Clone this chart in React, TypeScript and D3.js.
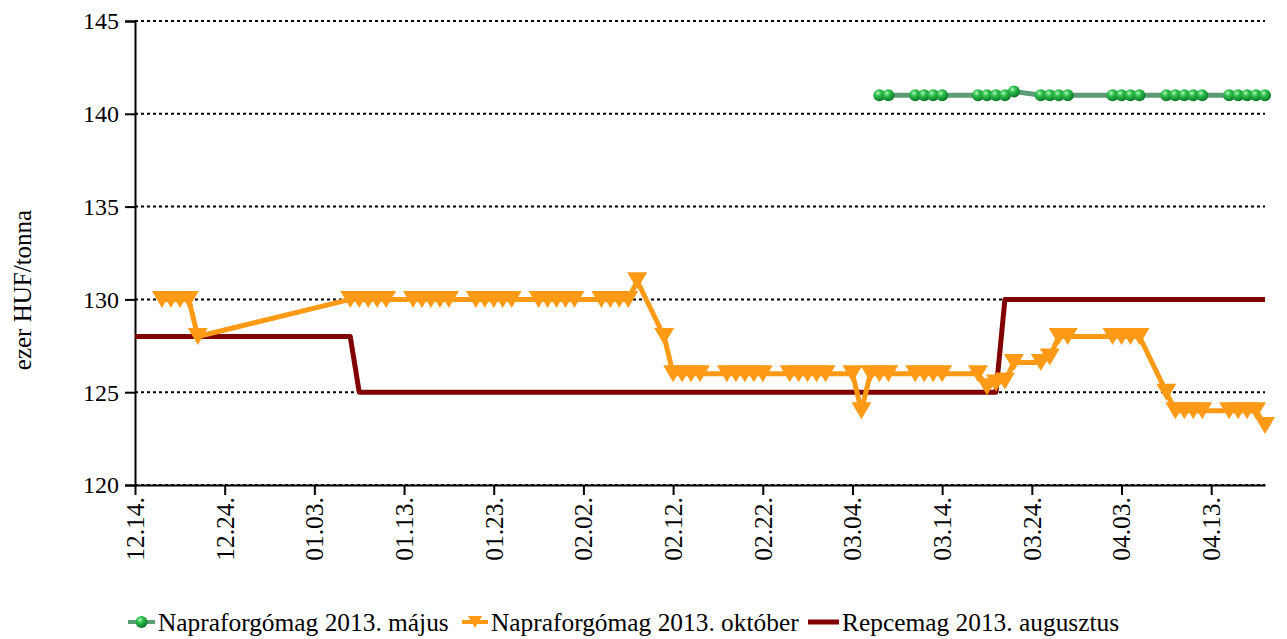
import { useEffect, useRef } from "react";
import * as d3 from "d3";

const seriesNames = [
  "Napraforgómag 2013. május",
  "Napraforgómag 2013. október",
  "Repcemag 2013. augusztus",
];

const yTicks = [120, 125, 130, 135, 140, 145];

const xTickDates = [
  "2012-12-14", "2012-12-24", "2013-01-03", "2013-01-13", "2013-01-23",
  "2013-02-02", "2013-02-12", "2013-02-22", "2013-03-04", "2013-03-14",
  "2013-03-24", "2013-04-03", "2013-04-13",
];

// Napraforgómag 2013. május
const majus: [string, number][] = [
  ["2013-03-07", 141], ["2013-03-08", 141],
  ["2013-03-11", 141], ["2013-03-12", 141], ["2013-03-13", 141], ["2013-03-14", 141],
  ["2013-03-18", 141], ["2013-03-19", 141], ["2013-03-20", 141], ["2013-03-21", 141], ["2013-03-22", 141.2],
  ["2013-03-25", 141], ["2013-03-26", 141], ["2013-03-27", 141], ["2013-03-28", 141],
  ["2013-04-02", 141], ["2013-04-03", 141], ["2013-04-04", 141], ["2013-04-05", 141],
  ["2013-04-08", 141], ["2013-04-09", 141], ["2013-04-10", 141], ["2013-04-11", 141], ["2013-04-12", 141],
  ["2013-04-15", 141], ["2013-04-16", 141], ["2013-04-17", 141], ["2013-04-18", 141], ["2013-04-19", 141],
];

// Napraforgómag 2013. október
const oktober: [string, number][] = [
  ["2012-12-17", 130], ["2012-12-18", 130], ["2012-12-19", 130], ["2012-12-20", 130], ["2012-12-21", 128],
  ["2013-01-07", 130], ["2013-01-08", 130], ["2013-01-09", 130], ["2013-01-10", 130], ["2013-01-11", 130],
  ["2013-01-14", 130], ["2013-01-15", 130], ["2013-01-16", 130], ["2013-01-17", 130], ["2013-01-18", 130],
  ["2013-01-21", 130], ["2013-01-22", 130], ["2013-01-23", 130], ["2013-01-24", 130], ["2013-01-25", 130],
  ["2013-01-28", 130], ["2013-01-29", 130], ["2013-01-30", 130], ["2013-01-31", 130], ["2013-02-01", 130],
  ["2013-02-04", 130], ["2013-02-05", 130], ["2013-02-06", 130], ["2013-02-07", 130], ["2013-02-08", 131],
  ["2013-02-11", 128], ["2013-02-12", 126], ["2013-02-13", 126], ["2013-02-14", 126], ["2013-02-15", 126],
  ["2013-02-18", 126], ["2013-02-19", 126], ["2013-02-20", 126], ["2013-02-21", 126], ["2013-02-22", 126],
  ["2013-02-25", 126], ["2013-02-26", 126], ["2013-02-27", 126], ["2013-02-28", 126], ["2013-03-01", 126],
  ["2013-03-04", 126], ["2013-03-05", 124], ["2013-03-06", 126], ["2013-03-07", 126], ["2013-03-08", 126],
  ["2013-03-11", 126], ["2013-03-12", 126], ["2013-03-13", 126], ["2013-03-14", 126],
  ["2013-03-18", 126], ["2013-03-19", 125.3], ["2013-03-20", 125.5], ["2013-03-21", 125.6], ["2013-03-22", 126.6],
  ["2013-03-25", 126.6], ["2013-03-26", 126.9], ["2013-03-27", 128], ["2013-03-28", 128],
  ["2013-04-02", 128], ["2013-04-03", 128], ["2013-04-04", 128], ["2013-04-05", 128],
  ["2013-04-08", 125], ["2013-04-09", 124], ["2013-04-10", 124], ["2013-04-11", 124], ["2013-04-12", 124],
  ["2013-04-15", 124], ["2013-04-16", 124], ["2013-04-17", 124], ["2013-04-18", 124], ["2013-04-19", 123.2],
];

// Repcemag 2013. augusztus (flat stretches, only the turning days listed)
const augusztus: [string, number][] = [
  ["2012-12-14", 128], ["2013-01-07", 128], ["2013-01-08", 125],
  ["2013-03-20", 125], ["2013-03-21", 130], ["2013-04-19", 130],
];

const FONT = "'Liberation Serif', 'Times New Roman', serif";
const ORANGE = "#ff9a16";
const GREEN_LINE = "#5c9c74";
const RED = "#800000";

export default function App() {
  const ref = useRef<SVGSVGElement>(null);

  useEffect(() => {
    const svg = d3.select(ref.current!);
    svg.selectAll("*").remove();

    const w = 1287,
      h = 639,
      margin = { top: 21, right: 22, bottom: 154, left: 135 };
    const parse = d3.utcParse("%Y-%m-%d");
    const fmt = d3.utcFormat("%m.%d.");

    const x = d3
      .scaleUtc()
      .domain([parse("2012-12-14")!, parse("2013-04-19")!])
      .range([margin.left, w - margin.right]);
    const y = d3
      .scaleLinear()
      .domain([120, 145])
      .range([h - margin.bottom, margin.top]);

    const defs = svg.append("defs");
    const grad = defs
      .append("radialGradient")
      .attr("id", "ball")
      .attr("cx", "38%")
      .attr("cy", "32%")
      .attr("r", "70%");
    grad.append("stop").attr("offset", "0%").attr("stop-color", "#b8f5c2");
    grad.append("stop").attr("offset", "35%").attr("stop-color", "#2fc24e");
    grad.append("stop").attr("offset", "100%").attr("stop-color", "#0a7424");

    // gridlines
    svg
      .append("g")
      .selectAll("line")
      .data(yTicks)
      .join("line")
      .attr("x1", margin.left)
      .attr("x2", w - margin.right)
      .attr("y1", (d) => y(d))
      .attr("y2", (d) => y(d))
      .attr("stroke", "#000")
      .attr("stroke-width", 2)
      .attr("stroke-dasharray", "3,3");

    // axes (lines from d3-axis, labels drawn separately)
    const yAxis = svg
      .append("g")
      .attr("transform", `translate(${margin.left},0)`)
      .call(d3.axisLeft(y).tickValues(yTicks).tickSize(10).tickFormat(() => ""));
    yAxis.select(".domain").attr("stroke-width", 2);
    yAxis.selectAll(".tick line").attr("stroke-width", 2);

    const xTicks = xTickDates.map((d) => parse(d)!);
    const xAxis = svg
      .append("g")
      .attr("transform", `translate(0,${h - margin.bottom})`)
      .call(
        d3
          .axisBottom(x)
          .tickValues(xTicks)
          .tickFormat(() => "")
          .tickSize(10)
          .tickSizeOuter(0)
      );
    xAxis.select(".domain").attr("stroke-width", 2);
    xAxis.selectAll(".tick line").attr("stroke-width", 2);

    const labels = svg.append("g").style("font-family", FONT);
    labels
      .selectAll("text.y")
      .data(yTicks)
      .join("text")
      .attr("class", "y")
      .style("font-size", "24px")
      .attr("x", margin.left - 16)
      .attr("y", (d) => y(d))
      .attr("dy", "0.35em")
      .attr("text-anchor", "end")
      .text((d) => d);
    labels
      .selectAll("text.x")
      .data(xTicks)
      .join("text")
      .attr("class", "x")
      .style("font-size", "25.5px")
      .attr("transform", (d) => `translate(${x(d)},${h - margin.bottom + 12}) rotate(-90)`)
      .attr("dy", "0.35em")
      .attr("text-anchor", "end")
      .text((d) => fmt(d));

    const line = d3
      .line<[string, number]>()
      .x((d) => x(parse(d[0])!))
      .y((d) => y(d[1]));

    // Repcemag
    svg
      .append("path")
      .datum(augusztus)
      .attr("d", line)
      .attr("fill", "none")
      .attr("stroke", RED)
      .attr("stroke-width", 5)
      .attr("stroke-linejoin", "round");

    // október
    svg
      .append("path")
      .datum(oktober)
      .attr("d", line)
      .attr("fill", "none")
      .attr("stroke", ORANGE)
      .attr("stroke-width", 5)
      .attr("stroke-linejoin", "round");
    const tri = "M-10,-8.5L10,-8.5L0,8.5Z";
    svg
      .append("g")
      .selectAll("path")
      .data(oktober)
      .join("path")
      .attr("transform", (d) => `translate(${x(parse(d[0])!)},${y(d[1])})`)
      .attr("d", tri)
      .attr("fill", ORANGE);

    // május
    svg
      .append("path")
      .datum(majus)
      .attr("d", line)
      .attr("fill", "none")
      .attr("stroke", GREEN_LINE)
      .attr("stroke-width", 5);
    svg
      .append("g")
      .selectAll("circle")
      .data(majus)
      .join("circle")
      .attr("cx", (d) => x(parse(d[0])!))
      .attr("cy", (d) => y(d[1]))
      .attr("r", 6)
      .attr("fill", "url(#ball)");

    // y label
    svg
      .append("text")
      .attr("transform", `translate(22,${(margin.top + h - margin.bottom) / 2 + 37}) rotate(-90)`)
      .attr("text-anchor", "middle")
      .attr("dy", "0.35em")
      .style("font-family", FONT)
      .style("font-size", "25px")
      .text("ezer HUF/tonna");

    // legend
    const ly = 622;
    const leg = svg.append("g").style("font-family", FONT).style("font-size", "25.4px");
    const items = [
      { x: 128, len: 27, color: GREEN_LINE, mark: "ball" },
      { x: 462, len: 26, color: ORANGE, mark: "tri" },
      { x: 808, len: 31, color: RED, mark: "none" },
    ];
    items.forEach((it, i) => {
      leg
        .append("line")
        .attr("x1", it.x)
        .attr("x2", it.x + it.len)
        .attr("y1", ly)
        .attr("y2", ly)
        .attr("stroke", it.color)
        .attr("stroke-width", it.mark === "none" ? 5 : 4);
      if (it.mark === "ball")
        leg
          .append("circle")
          .attr("cx", it.x + it.len / 2)
          .attr("cy", ly)
          .attr("r", 6)
          .attr("fill", "url(#ball)");
      if (it.mark === "tri")
        leg
          .append("path")
          .attr("transform", `translate(${it.x + it.len / 2},${ly})`)
          .attr("d", "M-7,-6L7,-6L0,6Z")
          .attr("fill", ORANGE);
      leg
        .append("text")
        .attr("x", it.x + it.len + 3)
        .attr("y", ly)
        .attr("dy", "0.35em")
        .text(seriesNames[i]);
    });
  }, []);

  return (
    <svg
      ref={ref}
      width={1287}
      height={639}
      style={{ position: "absolute", left: 0, top: 0, background: "#fff" }}
    />
  );
}
